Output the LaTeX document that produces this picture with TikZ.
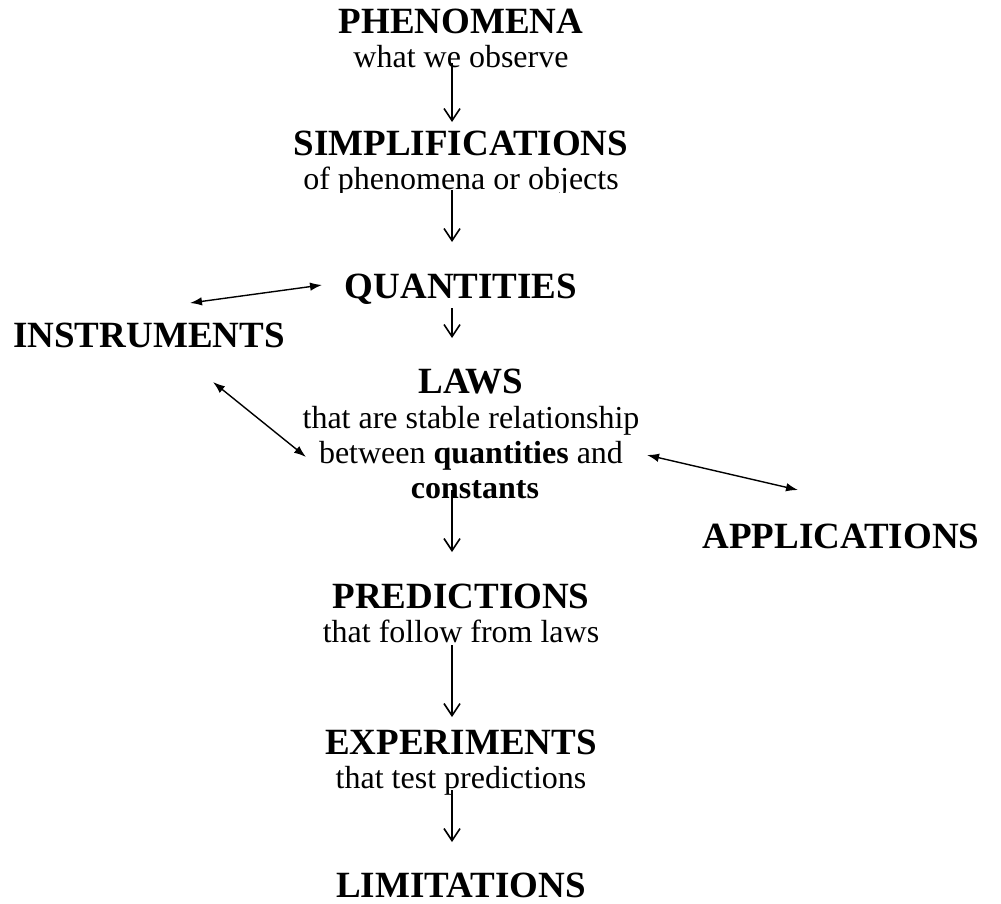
\documentclass[tikz,border=0pt]{standalone}
\usepackage{fontspec}
\setmainfont{Liberation Serif}
\usetikzlibrary{arrows.meta,calc}
\tikzset{
  head/.style={font=\fontsize{37}{44}\selectfont\bfseries, anchor=base, inner sep=0pt},
  sub/.style={font=\fontsize{32}{37}\selectfont, anchor=base, inner sep=0pt},
  varrow/.style={line width=1.6pt, -{Straight Barb[length=12pt,width=16pt,line width=1.6pt]}},
  darrow/.style={line width=1.4pt, {Latex[length=12pt,width=8.5pt]}-{Latex[length=12pt,width=8.5pt]}}
}
\begin{document}
\begin{tikzpicture}[x=1pt,y=-1pt]
\useasboundingbox (0,0) rectangle (1001,903);
\node[head] (phen) at (461,33) {PHENOMENA};
\node[sub] (phensub) at (461,67) {what we observe};
\node[head] (simp) at (461,155) {SIMPLIFICATIONS};
\begin{scope}
\clip (0,160) rectangle (1001,192);
\node[sub] (simpsub) at (461,189) {of phenomena or objects};
\end{scope}
\node[head] (quant) at (461,298) {QUANTITIES};
\node[head] (instr) at (149,347) {INSTRUMENTS};
\node[head] (laws) at (471,393) {LAWS};
\node[sub] (laws1) at (471,428) {that are stable relationship};
\node[sub] (laws2) at (471,463) {between \textbf{quantities} and};
\node[sub] (laws3) at (475,498) {\textbf{constants}};
\node[head] (apps) at (841,548) {APPLICATIONS};
\node[head] (pred) at (461,608) {PREDICTIONS};
\node[sub] (predsub) at (461,642) {that follow from laws};
\node[head] (exper) at (461,754) {EXPERIMENTS};
\node[sub] (expsub) at (461,788) {that test predictions};
\node[head] (lim) at (461,897) {LIMITATIONS};

\draw[varrow] ($(phensub.base)+(-9,-4)$) -- ($(simp.base)+(-9,-33)$);
\draw[varrow] ($(simpsub.base)+(-9,1)$) -- ($(quant.base)+(-9,-56)$);
\draw[varrow] ($(quant.base)+(-9,10)$) -- ($(laws.base)+(-19,-55)$);
\draw[varrow] ($(laws3.base)+(-23,-8)$) -- ($(pred.base)+(-9,-56)$);
\draw[varrow] ($(predsub.base)+(-9,3)$) -- ($(exper.base)+(-9,-37)$);
\draw[varrow] ($(expsub.base)+(-9,2)$) -- ($(lim.base)+(-9,-55)$);

\draw[darrow] ($(instr.base)+(41,-44)$) -- ($(quant.base)+(-139,-13)$);
\draw[darrow] ($(instr.base)+(64,35)$) -- ($(laws2.base)+(-165,-6)$);
\draw[darrow] ($(laws2.base)+(176,-8)$) -- ($(apps.base)+(-43,-58)$);
\end{tikzpicture}
\end{document}
